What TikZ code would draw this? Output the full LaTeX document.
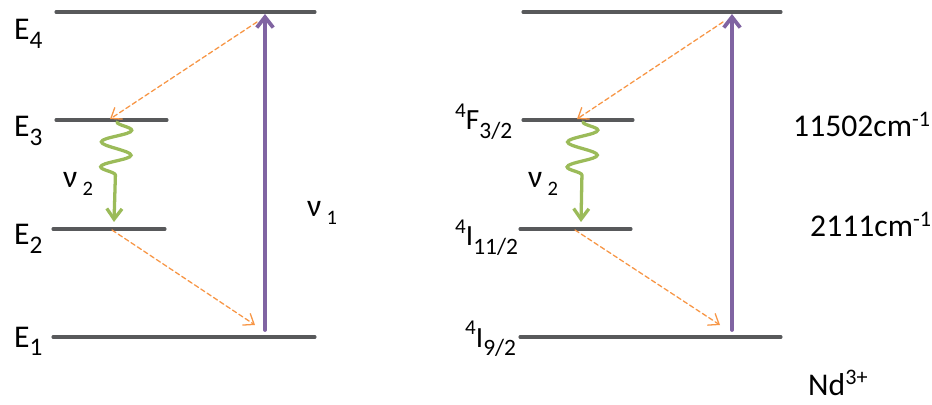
\documentclass[tikz,border=0pt]{standalone}
\usepackage{fontspec}
\setmainfont{Carlito}
\usetikzlibrary{arrows.meta,decorations.pathmorphing}
\definecolor{levelgray}{HTML}{58595B}
\definecolor{pumppurple}{HTML}{8064A2}
\definecolor{decayorange}{HTML}{F79646}
\definecolor{wavegreen}{HTML}{9BBB59}
\newcommand{\lowidx}[1]{\raisebox{-0.28em}{\scalebox{0.8}{#1}}}
\newcommand{\highidx}[1]{\raisebox{0.42em}{\scalebox{0.72}{#1}}}
\tikzset{
  lvl/.style={line width=2.6pt,draw=levelgray},
  pump/.style={line width=3.2pt,draw=pumppurple,-{Straight Barb[length=9pt,width=14pt]}},
  relax/.style={line width=1.1pt,draw=decayorange,dash pattern=on 4pt off 2.5pt,-{Straight Barb[length=8pt,width=12pt]}},
  phonon/.style={line width=2.8pt,draw=wavegreen,decorate,
    decoration={snake,amplitude=0.45cm,segment length=0.75cm,post length=1.1cm},
    -{Straight Barb[length=9pt,width=13pt]}},
  lbl/.style={anchor=base west,inner sep=0pt,font=\fontsize{27}{30}\selectfont},
  term/.style={anchor=base west,inner sep=0pt,font=\fontsize{25}{28}\selectfont},
}
\begin{document}
\begin{tikzpicture}[x=0.03cm,y=-0.03cm,line cap=round]
  \useasboundingbox (0,0) rectangle (932,405);
  % generic four-level scheme
  \coordinate (a4w) at (56,12);  \coordinate (a4e) at (315,12);
  \coordinate (a3w) at (56,120); \coordinate (a3e) at (167,120);
  \coordinate (a2w) at (53,229); \coordinate (a2e) at (165,229);
  \coordinate (a1w) at (53,337); \coordinate (a1e) at (315,337);
  \draw[lvl] (a4w) -- (a4e);
  \draw[lvl] (a3w) -- (a3e);
  \draw[lvl] (a2w) -- (a2e);
  \draw[lvl] (a1w) -- (a1e);
  \node[lbl] (e4) at (14,40) {E\lowidx{4}};
  \node[lbl] (e3) at (14,137) {E\lowidx{3}};
  \node[lbl] (e2) at (14,245) {E\lowidx{2}};
  \node[lbl] (e1) at (14,347) {E\lowidx{1}};
  \coordinate (pumpAlo) at (265,330); \coordinate (pumpAhi) at (265,14);
  \coordinate (topA) at (257,22);    \coordinate (a3hit) at (110,119);
  \coordinate (a3wav) at (117,122);  \coordinate (a2wav) at (114,222);
  \coordinate (a2off) at (112,230);  \coordinate (a1hit) at (255,325);
  \draw[pump] (pumpAlo) -- (pumpAhi);
  \draw[relax] (topA) -- (a3hit);
  \draw[phonon] (a3wav) -- (a2wav);
  \draw[relax] (a2off) -- (a1hit);
  \node[lbl] (nu2A) at (63,188) {ν\,\raisebox{-0.25em}{\scalebox{0.65}{2}}};
  \node[lbl] (nu1) at (307,217) {ν\,\raisebox{-0.25em}{\scalebox{0.65}{1}}};
  % Nd3+ levels
  \coordinate (b4w) at (523,12);  \coordinate (b4e) at (781,12);
  \coordinate (b3w) at (523,120); \coordinate (b3e) at (633,120);
  \coordinate (b2w) at (520,229); \coordinate (b2e) at (631,229);
  \coordinate (b1w) at (520,337); \coordinate (b1e) at (781,337);
  \draw[lvl] (b4w) -- (b4e);
  \draw[lvl] (b3w) -- (b3e);
  \draw[lvl] (b2w) -- (b2e);
  \draw[lvl] (b1w) -- (b1e);
  \node[term] (f32) at (455,130) {\highidx{4}F\lowidx{3/2}};
  \node[term] (i112) at (455,246) {\highidx{4}I\lowidx{11/2}};
  \node[term] (i92) at (465,347) {\highidx{4}I\lowidx{9/2}};
  \coordinate (pumpBlo) at (732,330); \coordinate (pumpBhi) at (732,14);
  \coordinate (topB) at (723,22);    \coordinate (b3hit) at (577,119);
  \coordinate (b3wav) at (583,122);  \coordinate (b2wav) at (581,222);
  \coordinate (b2off) at (575,230);  \coordinate (b1hit) at (720,325);
  \draw[pump] (pumpBlo) -- (pumpBhi);
  \draw[relax] (topB) -- (b3hit);
  \draw[phonon] (b3wav) -- (b2wav);
  \draw[relax] (b2off) -- (b1hit);
  \node[lbl] (nu2B) at (528,188) {ν\,\raisebox{-0.25em}{\scalebox{0.65}{2}}};
  \node[lbl] (gap1) at (793,137) {11502cm\textsuperscript{-1}};
  \node[lbl] (gap2) at (810,237) {2111cm\textsuperscript{-1}};
  \node[lbl] (ion) at (808,395) {Nd\textsuperscript{3+}};
\end{tikzpicture}
\end{document}
